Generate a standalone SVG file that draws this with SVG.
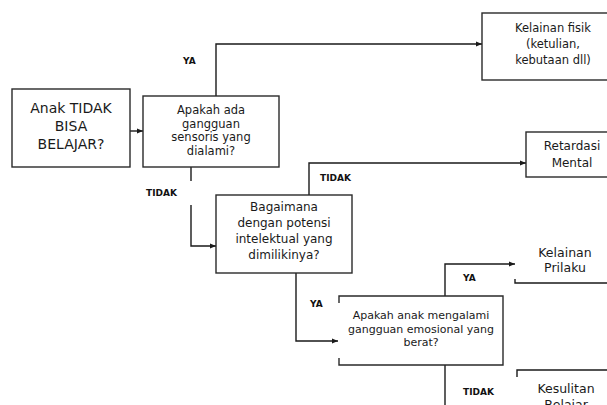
<svg xmlns="http://www.w3.org/2000/svg" width="607" height="405" viewBox="0 0 607 405">
<style>
.box{fill:#fff;stroke:#2a2a2a;stroke-width:1.4}
.edge{fill:none;stroke:#1a1a1a;stroke-width:1.4}
.t{font-family:"DejaVu Sans","Verdana",sans-serif;fill:#1a1a1a;text-anchor:middle}
.lbl{font-family:"DejaVu Sans","Verdana",sans-serif;font-weight:bold;font-size:9px;fill:#111}
</style>
<defs>
<marker id="arr" viewBox="0 0 10 10" refX="10" refY="5" markerWidth="6" markerHeight="6" markerUnits="userSpaceOnUse" orient="auto">
<path d="M0,1 L10,5 L0,9 Z" fill="#1a1a1a"/>
</marker>
</defs>
<rect width="607" height="405" fill="#fff"/>
<g id="connectors">
<path class="edge" d="M130,131 H143" marker-end="url(#arr)"/>
<path class="edge" d="M216,96 V44 H482" marker-end="url(#arr)"/>
<path class="edge" d="M191,167 V181"/>
<path class="edge" d="M191,205 V246 H216" marker-end="url(#arr)"/>
<path class="edge" d="M309,195 V163 H526" marker-end="url(#arr)"/>
<path class="edge" d="M296,273 V341 H338" marker-end="url(#arr)"/>
<path class="edge" d="M445,296 V264 H515" marker-end="url(#arr)"/>
<path class="edge" d="M445,365 V405"/>
</g>
<g id="labels">
<text class="lbl" x="183" y="64">YA</text>
<text class="lbl" x="146" y="196">TIDAK</text>
<text class="lbl" x="320" y="181">TIDAK</text>
<text class="lbl" x="310" y="307">YA</text>
<text class="lbl" x="463" y="281">YA</text>
<text class="lbl" x="463" y="395">TIDAK</text>
</g>
<g id="n-start">
<rect class="box" x="12" y="89" width="118" height="78"/>
<text class="t" font-size="14" x="71" y="113">Anak TIDAK</text>
<text class="t" font-size="14" x="71" y="131">BISA</text>
<text class="t" font-size="14" x="71" y="149">BELAJAR?</text>
</g>
<g id="n-sensoris">
<rect class="box" x="143" y="96" width="136" height="71"/>
<text class="t" font-size="11.5" x="211" y="114">Apakah ada</text>
<text class="t" font-size="11.5" x="211" y="127.5">gangguan</text>
<text class="t" font-size="11.5" x="211" y="141">sensoris yang</text>
<text class="t" font-size="11.5" x="211" y="154.5">dialami?</text>
</g>
<g id="n-fisik">
<rect class="box" x="482" y="13" width="130" height="67"/>
<text class="t" font-size="11.5" x="553" y="32">Kelainan fisik</text>
<text class="t" font-size="11.5" x="553" y="48">(ketulian,</text>
<text class="t" font-size="11.5" x="553" y="64">kebutaan dll)</text>
</g>
<g id="n-intelektual">
<rect class="box" x="216" y="195" width="136" height="78"/>
<text class="t" font-size="12" x="284" y="211">Bagaimana</text>
<text class="t" font-size="12" x="284" y="227">dengan potensi</text>
<text class="t" font-size="12" x="284" y="243">intelektual yang</text>
<text class="t" font-size="12" x="284" y="259">dimilikinya?</text>
</g>
<g id="n-retardasi">
<rect class="box" x="526" y="132" width="90" height="45"/>
<text class="t" font-size="12" x="572" y="150">Retardasi</text>
<text class="t" font-size="12" x="572" y="167">Mental</text>
</g>
<g id="n-emosional">
<path class="box" fill="#fff" d="M339,303 V296 H503 V365 H339 V358"/>
<text class="t" font-size="11" x="421" y="319">Apakah anak mengalami</text>
<text class="t" font-size="11" x="421" y="332.5">gangguan emosional yang</text>
<text class="t" font-size="11" x="421" y="346">berat?</text>
</g>
<g id="n-prilaku">
<path class="edge" d="M515,279 V283 H607"/>
<text class="t" font-size="12.5" x="565" y="257">Kelainan</text>
<text class="t" font-size="12.5" x="565" y="272">Prilaku</text>
</g>
<g id="n-kesulitan">
<path class="edge" d="M517,377 V370 H607"/>
<text class="t" font-size="12.5" x="566" y="393">Kesulitan</text>
<text class="t" font-size="12.5" x="566" y="409">Belajar</text>
</g>
</svg>
